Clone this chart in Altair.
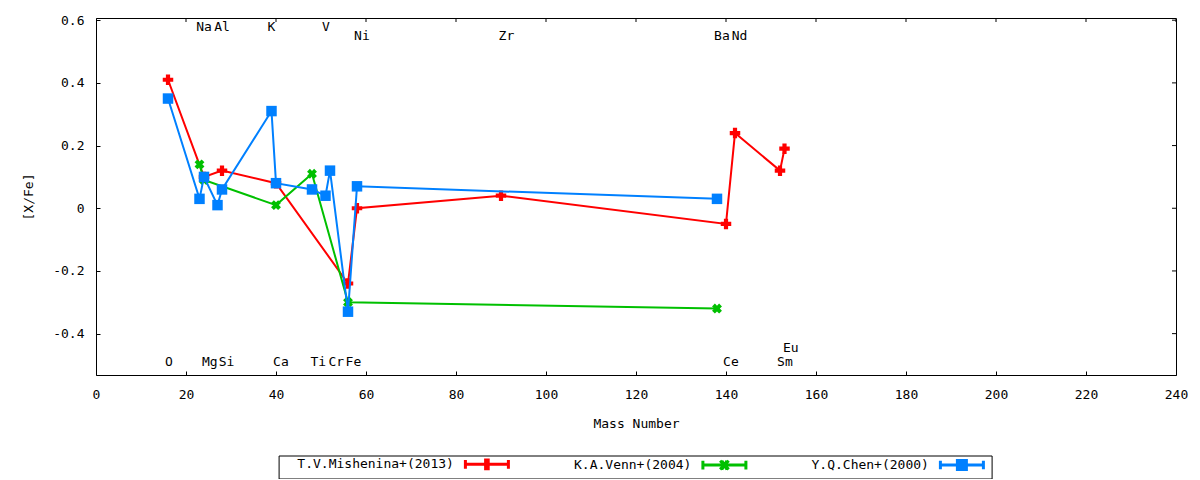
import altair as alt
import pandas as pd

# ---------------- data ----------------
series_names = ["T.V.Mishenina+(2013)", "K.A.Venn+(2004)", "Y.Q.Chen+(2000)"]
series_colors = ["#ff0000", "#00c000", "#0080ff"]

mish_mass = [16, 24, 28, 40, 56, 58, 90, 140, 142, 152, 153]
mish_xfe = [0.41, 0.10, 0.12, 0.08, -0.24, 0.00, 0.04, -0.05, 0.24, 0.12, 0.19]

venn_mass = [23, 24, 40, 48, 56, 138]
venn_xfe = [0.14, 0.09, 0.01, 0.11, -0.30, -0.32]

chen_mass = [16, 23, 24, 27, 28, 39, 40, 48, 51, 52, 56, 58, 138]
chen_xfe = [0.35, 0.03, 0.10, 0.01, 0.06, 0.31, 0.08, 0.06, 0.04, 0.12, -0.33, 0.07, 0.03]

label_text = ["Na", "Al", "K", "V", "Ni", "Zr", "Ba", "Nd",
              "O", "Mg", "Si", "Ca", "Ti", "Cr", "Fe", "Ce", "Sm", "Eu"]
label_x = [24.0, 28.0, 39.0, 51.1, 59.1, 91.2, 139.1, 143.0,
           16.2, 25.3, 29.0, 41.1, 49.4, 53.4, 57.2, 141.1, 153.1, 154.4]
label_y = [0.579, 0.579, 0.579, 0.579, 0.548, 0.548, 0.548, 0.548,
           -0.491, -0.491, -0.491, -0.491, -0.491, -0.491, -0.491, -0.491, -0.491, -0.447]

x_ticks = list(range(0, 241, 20))
y_ticks = [-0.4, -0.2, 0.0, 0.2, 0.4, 0.6]
x_domain = [0, 240]
y_domain = [-0.532, 0.607]

# padded legend names (monospace font, label drawn left of the sample)
PADW = 22
legend_names = ["\u00a0" * (PADW - len(s)) + s for s in series_names]

rows = []
for name, ms, vs in zip(legend_names,
                        [mish_mass, venn_mass, chen_mass],
                        [mish_xfe, venn_xfe, chen_xfe]):
    for m, v in zip(ms, vs):
        rows.append({"series": name, "mass": m, "xfe": v})
df = pd.DataFrame(rows)
labels_df = pd.DataFrame({"lx": label_x, "ly": label_y, "txt": label_text})
# mirror ticks on the top and right border
top_ticks_df = pd.DataFrame({"tx": x_ticks, "ty": [y_domain[1]] * len(x_ticks)})
right_ticks_df = pd.DataFrame({"tx": [x_domain[1]] * len(y_ticks), "ty": y_ticks})

FONT = "DejaVu Sans Mono"
W, H = 1080, 357

xs = alt.Scale(domain=x_domain, nice=False, zero=False)
ys = alt.Scale(domain=y_domain, nice=False, zero=False)

main_x_axis = alt.Axis(values=x_ticks, ticks=False, tickSize=0, domain=False, grid=False,
                       labelPadding=13, labelFlush=False, title="Mass Number", titlePadding=16,
                       labelFont=FONT, labelFontSize=13, titleFont=FONT, titleFontSize=13,
                       titleFontWeight="normal", labelColor="black", titleColor="black")
main_y_axis = alt.Axis(values=y_ticks, ticks=False, tickSize=0, domain=False, grid=False,
                       labelPadding=12, labelFlush=False, title="[X/Fe]", titlePadding=17,
                       labelExpr="'' + (round(datum.value*10)/10)",
                       labelFont=FONT, labelFontSize=13, titleFont=FONT, titleFontSize=13,
                       titleFontWeight="normal", labelColor="black", titleColor="black")

tick_x_axis = alt.Axis(orient="top", offset=-H, values=x_ticks, labels=False, domain=False,
                       grid=False, ticks=True, tickSize=4, tickColor="black", title=None)
tick_y_axis = alt.Axis(orient="right", offset=-W, values=y_ticks, labels=False, domain=False,
                       grid=False, ticks=True, tickSize=4, tickColor="black", title=None)

marker_shapes = ["cross", "cross", "square"]
marker_angles = [0, 45, 0]
marker_sizes = [110, 100, 110]

layers = []
for i, (name, col) in enumerate(zip(legend_names, series_colors)):
    sub = alt.Chart(df).transform_filter(alt.datum.series == name)
    xenc = alt.X("mass:Q", scale=xs, axis=main_x_axis if i == 0 else None)
    yenc = alt.Y("xfe:Q", scale=ys, axis=main_y_axis if i == 0 else None)
    line = sub.mark_line(color=col, strokeWidth=2).encode(x=xenc, y=yenc)
    pts = sub.mark_point(shape=marker_shapes[i], angle=marker_angles[i], filled=True,
                         color=col, size=marker_sizes[i], opacity=1).encode(
        x=alt.X("mass:Q", scale=xs, axis=None), y=alt.Y("xfe:Q", scale=ys, axis=None))
    layers += [line, pts]

text_layer = alt.Chart(labels_df).mark_text(font=FONT, fontSize=13, color="black",
                                            align="center", baseline="middle").encode(
    x=alt.X("lx:Q", scale=xs, axis=None),
    y=alt.Y("ly:Q", scale=ys, axis=None),
    text="txt:N")

top_ticks = alt.Chart(top_ticks_df).mark_tick(orient="vertical", size=8, thickness=1,
                                              color="black", opacity=1, clip=True).encode(
    x=alt.X("tx:Q", scale=xs, axis=None), y=alt.Y("ty:Q", scale=ys, axis=None))
right_ticks = alt.Chart(right_ticks_df).mark_tick(orient="horizontal", size=8, thickness=1,
                                                  color="black", opacity=1, clip=True).encode(
    x=alt.X("tx:Q", scale=xs, axis=None), y=alt.Y("ty:Q", scale=ys, axis=None))

# legend sample symbols (unit radius 5px): line with end caps + series marker in the middle
legend_paths = [
    "M-4.3,0H4.3M-4.3,-0.86V0.86M4.3,-0.86V0.86M-0.26,-1.16V1.16M0.26,-1.16V1.16",
    "M-4.3,0H4.3M-4.3,-0.86V0.86M4.3,-0.86V0.86M-0.86,-0.86L0.86,0.86M-0.86,0.86L0.86,-0.86M-0.52,-0.86L0.52,0.86M-0.52,0.86L0.52,-0.86",
    "M-4.3,0H4.3M-4.3,-0.86V0.86M4.3,-0.86V0.86M-0.9,-0.9H0.9V0.9H-0.9ZM-0.45,-0.45H0.45V0.45H-0.45Z",
]

leg = alt.Legend(title=None, orient="none", legendX=182.6, legendY=437.5,
                 direction="horizontal", columns=3, columnPadding=3.5,
                 padding=2, strokeColor="black", fillColor="white", cornerRadius=0,
                 labelFont=FONT, labelFontSize=13, labelColor="black", labelLimit=400,
                 labelAlign="right", labelOffset={"expr": "-39.5"}, symbolOffset=199.8,
                 symbolSize=100, symbolStrokeWidth=3, symbolOpacity=1)

legend_layer = alt.Chart(df).transform_filter("false").mark_point(
    filled=False, opacity=1, strokeWidth=3).encode(
    x=alt.X("mass:Q", scale=xs, axis=tick_x_axis),
    y=alt.Y("xfe:Q", scale=ys, axis=tick_y_axis),
    color=alt.Color("series:N", scale=alt.Scale(domain=legend_names, range=series_colors),
                    legend=leg),
    shape=alt.Shape("series:N", scale=alt.Scale(domain=legend_names, range=legend_paths),
                    legend=leg),
)

chart = alt.layer(*layers, text_layer, top_ticks, right_ticks, legend_layer).resolve_axis(
    x="independent", y="independent"
).properties(
    width=W, height=H,
    padding={"left": 14, "top": 6, "right": 0, "bottom": 0},
    background="white",
).configure_view(stroke="black", strokeWidth=1)

chart.save("out.html", embed_options={"renderer": "svg", "actions": False})
